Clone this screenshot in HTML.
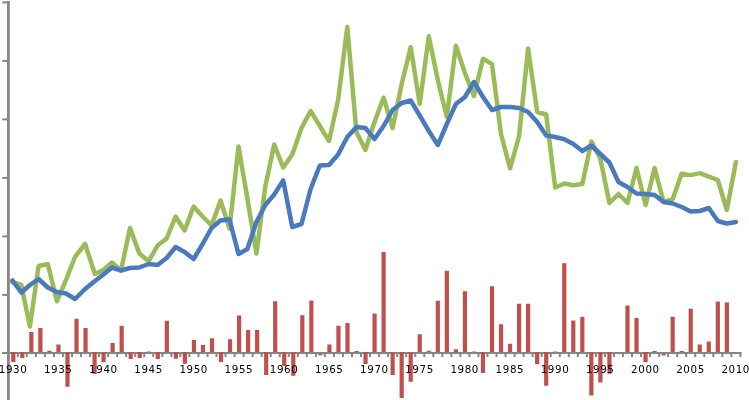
<!DOCTYPE html>
<html><head><meta charset="utf-8"><title>Chart</title>
<style>html,body{margin:0;padding:0;background:#fff;overflow:hidden}svg{display:block}</style></head>
<body>
<svg width="749" height="400" viewBox="0 0 749 400">
<rect width="749" height="400" fill="#fff"/>
<g fill="#868686">
<rect x="7" y="1" width="2.8" height="399"/>
<rect x="2.2" y="1.40" width="5" height="2"/>
<rect x="2.2" y="59.90" width="5" height="2"/>
<rect x="2.2" y="118.40" width="5" height="2"/>
<rect x="2.2" y="176.90" width="5" height="2"/>
<rect x="2.2" y="235.40" width="5" height="2"/>
<rect x="2.2" y="293.90" width="5" height="2"/>
<rect x="2.2" y="352.00" width="5" height="2"/>
<rect x="2.2" y="352" width="739.5" height="2"/>
<rect x="16.80" y="353.5" width="2" height="3.6"/>
<rect x="25.83" y="353.5" width="2" height="3.6"/>
<rect x="34.86" y="353.5" width="2" height="3.6"/>
<rect x="43.89" y="353.5" width="2" height="3.6"/>
<rect x="52.93" y="353.5" width="2" height="3.6"/>
<rect x="61.96" y="353.5" width="2" height="3.6"/>
<rect x="70.99" y="353.5" width="2" height="3.6"/>
<rect x="80.02" y="353.5" width="2" height="3.6"/>
<rect x="89.06" y="353.5" width="2" height="3.6"/>
<rect x="98.09" y="353.5" width="2" height="3.6"/>
<rect x="107.12" y="353.5" width="2" height="3.6"/>
<rect x="116.15" y="353.5" width="2" height="3.6"/>
<rect x="125.19" y="353.5" width="2" height="3.6"/>
<rect x="134.22" y="353.5" width="2" height="3.6"/>
<rect x="143.25" y="353.5" width="2" height="3.6"/>
<rect x="152.28" y="353.5" width="2" height="3.6"/>
<rect x="161.32" y="353.5" width="2" height="3.6"/>
<rect x="170.35" y="353.5" width="2" height="3.6"/>
<rect x="179.38" y="353.5" width="2" height="3.6"/>
<rect x="188.41" y="353.5" width="2" height="3.6"/>
<rect x="197.45" y="353.5" width="2" height="3.6"/>
<rect x="206.48" y="353.5" width="2" height="3.6"/>
<rect x="215.51" y="353.5" width="2" height="3.6"/>
<rect x="224.54" y="353.5" width="2" height="3.6"/>
<rect x="233.58" y="353.5" width="2" height="3.6"/>
<rect x="242.61" y="353.5" width="2" height="3.6"/>
<rect x="251.64" y="353.5" width="2" height="3.6"/>
<rect x="260.67" y="353.5" width="2" height="3.6"/>
<rect x="269.71" y="353.5" width="2" height="3.6"/>
<rect x="278.74" y="353.5" width="2" height="3.6"/>
<rect x="287.77" y="353.5" width="2" height="3.6"/>
<rect x="296.80" y="353.5" width="2" height="3.6"/>
<rect x="305.84" y="353.5" width="2" height="3.6"/>
<rect x="314.87" y="353.5" width="2" height="3.6"/>
<rect x="323.90" y="353.5" width="2" height="3.6"/>
<rect x="332.93" y="353.5" width="2" height="3.6"/>
<rect x="341.97" y="353.5" width="2" height="3.6"/>
<rect x="351.00" y="353.5" width="2" height="3.6"/>
<rect x="360.03" y="353.5" width="2" height="3.6"/>
<rect x="369.06" y="353.5" width="2" height="3.6"/>
<rect x="378.10" y="353.5" width="2" height="3.6"/>
<rect x="387.13" y="353.5" width="2" height="3.6"/>
<rect x="396.16" y="353.5" width="2" height="3.6"/>
<rect x="405.19" y="353.5" width="2" height="3.6"/>
<rect x="414.23" y="353.5" width="2" height="3.6"/>
<rect x="423.26" y="353.5" width="2" height="3.6"/>
<rect x="432.29" y="353.5" width="2" height="3.6"/>
<rect x="441.32" y="353.5" width="2" height="3.6"/>
<rect x="450.36" y="353.5" width="2" height="3.6"/>
<rect x="459.39" y="353.5" width="2" height="3.6"/>
<rect x="468.42" y="353.5" width="2" height="3.6"/>
<rect x="477.45" y="353.5" width="2" height="3.6"/>
<rect x="486.49" y="353.5" width="2" height="3.6"/>
<rect x="495.52" y="353.5" width="2" height="3.6"/>
<rect x="504.55" y="353.5" width="2" height="3.6"/>
<rect x="513.58" y="353.5" width="2" height="3.6"/>
<rect x="522.62" y="353.5" width="2" height="3.6"/>
<rect x="531.65" y="353.5" width="2" height="3.6"/>
<rect x="540.68" y="353.5" width="2" height="3.6"/>
<rect x="549.71" y="353.5" width="2" height="3.6"/>
<rect x="558.75" y="353.5" width="2" height="3.6"/>
<rect x="567.78" y="353.5" width="2" height="3.6"/>
<rect x="576.81" y="353.5" width="2" height="3.6"/>
<rect x="585.84" y="353.5" width="2" height="3.6"/>
<rect x="594.88" y="353.5" width="2" height="3.6"/>
<rect x="603.91" y="353.5" width="2" height="3.6"/>
<rect x="612.94" y="353.5" width="2" height="3.6"/>
<rect x="621.97" y="353.5" width="2" height="3.6"/>
<rect x="631.01" y="353.5" width="2" height="3.6"/>
<rect x="640.04" y="353.5" width="2" height="3.6"/>
<rect x="649.07" y="353.5" width="2" height="3.6"/>
<rect x="658.10" y="353.5" width="2" height="3.6"/>
<rect x="667.14" y="353.5" width="2" height="3.6"/>
<rect x="676.17" y="353.5" width="2" height="3.6"/>
<rect x="685.20" y="353.5" width="2" height="3.6"/>
<rect x="694.23" y="353.5" width="2" height="3.6"/>
<rect x="703.27" y="353.5" width="2" height="3.6"/>
<rect x="712.30" y="353.5" width="2" height="3.6"/>
<rect x="721.33" y="353.5" width="2" height="3.6"/>
<rect x="730.36" y="353.5" width="2" height="3.6"/>
<rect x="739.40" y="353.5" width="2" height="3.6"/>
</g>
<g fill="#c0504d">
<rect x="11.18" y="352.00" width="4.2" height="10.00"/>
<rect x="20.21" y="352.00" width="4.2" height="6.00"/>
<rect x="29.24" y="332.00" width="4.2" height="20.00"/>
<rect x="38.28" y="328.00" width="4.2" height="24.00"/>
<rect x="47.31" y="350.75" width="4.2" height="1.25"/>
<rect x="56.34" y="344.50" width="4.2" height="7.50"/>
<rect x="65.38" y="352.00" width="4.2" height="34.75"/>
<rect x="74.41" y="318.75" width="4.2" height="33.25"/>
<rect x="83.44" y="328.00" width="4.2" height="24.00"/>
<rect x="92.47" y="352.00" width="4.2" height="22.00"/>
<rect x="101.51" y="352.00" width="4.2" height="10.00"/>
<rect x="110.54" y="343.00" width="4.2" height="9.00"/>
<rect x="119.57" y="325.75" width="4.2" height="26.25"/>
<rect x="128.60" y="352.00" width="4.2" height="7.00"/>
<rect x="137.64" y="352.00" width="4.2" height="6.00"/>
<rect x="146.67" y="351.50" width="4.2" height="0.50"/>
<rect x="155.70" y="352.00" width="4.2" height="7.00"/>
<rect x="164.73" y="320.75" width="4.2" height="31.25"/>
<rect x="173.77" y="352.00" width="4.2" height="6.75"/>
<rect x="182.80" y="352.00" width="4.2" height="11.75"/>
<rect x="191.83" y="340.00" width="4.2" height="12.00"/>
<rect x="200.86" y="345.00" width="4.2" height="7.00"/>
<rect x="209.90" y="338.25" width="4.2" height="13.75"/>
<rect x="218.93" y="352.00" width="4.2" height="10.00"/>
<rect x="227.96" y="339.25" width="4.2" height="12.75"/>
<rect x="236.99" y="315.50" width="4.2" height="36.50"/>
<rect x="246.03" y="330.00" width="4.2" height="22.00"/>
<rect x="255.06" y="330.00" width="4.2" height="22.00"/>
<rect x="264.09" y="352.00" width="4.2" height="23.00"/>
<rect x="273.12" y="301.25" width="4.2" height="50.75"/>
<rect x="282.15" y="352.00" width="4.2" height="14.00"/>
<rect x="291.19" y="352.00" width="4.2" height="23.75"/>
<rect x="300.22" y="315.25" width="4.2" height="36.75"/>
<rect x="309.25" y="300.60" width="4.2" height="51.40"/>
<rect x="318.28" y="353.90" width="4.2" height="1.40"/>
<rect x="327.32" y="344.50" width="4.2" height="7.50"/>
<rect x="336.35" y="325.75" width="4.2" height="26.25"/>
<rect x="345.38" y="323.00" width="4.2" height="29.00"/>
<rect x="354.41" y="351.00" width="4.2" height="1.00"/>
<rect x="363.45" y="352.00" width="4.2" height="12.00"/>
<rect x="372.48" y="313.50" width="4.2" height="38.50"/>
<rect x="381.51" y="252.00" width="4.2" height="100.00"/>
<rect x="390.54" y="352.00" width="4.2" height="23.00"/>
<rect x="399.58" y="352.00" width="4.2" height="46.00"/>
<rect x="408.61" y="352.00" width="4.2" height="29.75"/>
<rect x="417.64" y="334.25" width="4.2" height="17.75"/>
<rect x="426.67" y="350.75" width="4.2" height="1.25"/>
<rect x="435.71" y="300.75" width="4.2" height="51.25"/>
<rect x="444.74" y="270.75" width="4.2" height="81.25"/>
<rect x="453.77" y="349.25" width="4.2" height="2.75"/>
<rect x="462.81" y="291.25" width="4.2" height="60.75"/>
<rect x="471.84" y="351.50" width="4.2" height="0.50"/>
<rect x="480.87" y="352.00" width="4.2" height="21.00"/>
<rect x="489.90" y="286.25" width="4.2" height="65.75"/>
<rect x="498.94" y="324.25" width="4.2" height="27.75"/>
<rect x="507.97" y="343.75" width="4.2" height="8.25"/>
<rect x="517.00" y="303.75" width="4.2" height="48.25"/>
<rect x="526.03" y="303.75" width="4.2" height="48.25"/>
<rect x="535.06" y="352.00" width="4.2" height="12.25"/>
<rect x="544.10" y="352.00" width="4.2" height="33.75"/>
<rect x="553.13" y="351.50" width="4.2" height="0.50"/>
<rect x="562.16" y="263.20" width="4.2" height="88.80"/>
<rect x="571.19" y="320.50" width="4.2" height="31.50"/>
<rect x="580.23" y="316.75" width="4.2" height="35.25"/>
<rect x="589.26" y="352.00" width="4.2" height="43.50"/>
<rect x="598.29" y="352.00" width="4.2" height="30.50"/>
<rect x="607.33" y="352.00" width="4.2" height="21.75"/>
<rect x="625.39" y="305.50" width="4.2" height="46.50"/>
<rect x="634.42" y="318.00" width="4.2" height="34.00"/>
<rect x="643.46" y="352.00" width="4.2" height="10.00"/>
<rect x="652.49" y="351.00" width="4.2" height="1.00"/>
<rect x="661.52" y="353.90" width="4.2" height="1.60"/>
<rect x="670.55" y="316.75" width="4.2" height="35.25"/>
<rect x="679.59" y="351.00" width="4.2" height="1.00"/>
<rect x="688.62" y="308.75" width="4.2" height="43.25"/>
<rect x="697.65" y="344.50" width="4.2" height="7.50"/>
<rect x="706.68" y="341.50" width="4.2" height="10.50"/>
<rect x="715.72" y="301.50" width="4.2" height="50.50"/>
<rect x="724.75" y="302.40" width="4.2" height="49.60"/>
</g>
<polyline fill="none" stroke="#9bbb59" stroke-width="4.5" stroke-linejoin="round" stroke-linecap="round" points="12.4,282.0 21.3,285.0 29.9,326.5 38.6,266.0 47.8,264.0 56.9,301.3 66.0,280.0 75.0,257.0 85.1,244.0 94.9,274.0 103.4,270.0 111.9,262.5 121.0,270.5 130.0,228.0 139.3,253.5 148.6,261.2 157.6,245.5 166.6,238.5 175.6,216.5 184.6,230.5 193.6,206.5 202.6,216.5 211.6,225.5 220.5,200.5 229.5,228.5 238.5,146.5 247.4,198.5 256.4,253.5 265.3,186.5 274.2,144.5 283.2,167.5 292.3,154.5 301.5,128.0 310.6,111.0 319.8,126.0 329.0,141.0 338.1,100.0 347.3,27.0 356.4,132.0 365.4,150.0 374.5,122.0 383.6,97.5 392.6,128.0 401.7,84.0 410.7,47.2 419.7,104.0 428.8,36.2 437.8,80.0 446.8,117.0 455.9,45.7 464.9,73.0 473.9,96.0 483.0,58.7 492.0,64.2 501.0,134.0 510.1,168.4 519.1,136.0 528.1,48.5 537.2,112.0 546.2,114.5 555.2,187.5 564.3,183.5 573.3,185.3 582.3,184.0 591.4,141.5 600.4,159.0 609.4,203.0 618.5,194.0 627.5,203.0 636.5,168.0 645.6,205.0 654.6,168.0 663.6,202.0 672.7,199.0 681.7,173.6 690.7,175.1 699.8,173.1 708.8,176.6 717.8,180.0 726.8,210.0 735.9,162.0"/>
<polyline fill="none" stroke="#4a7abd" stroke-width="4.5" stroke-linejoin="round" stroke-linecap="round" points="12.4,280.5 21.3,292.5 29.9,285.0 38.6,279.0 47.8,287.5 56.9,292.0 66.0,293.5 75.0,299.0 85.1,289.0 94.9,281.0 103.4,274.5 111.9,267.5 121.0,270.5 130.0,268.0 139.3,267.5 148.6,264.0 157.6,265.0 166.6,258.0 175.6,247.0 184.6,252.0 193.6,259.0 202.6,244.0 211.6,228.0 220.5,220.5 229.5,219.5 238.5,254.0 247.4,249.0 256.4,222.0 265.3,205.0 274.2,194.5 283.2,180.4 292.3,227.0 301.5,224.0 310.6,189.0 319.8,165.5 329.0,165.0 338.1,154.5 347.3,137.0 356.4,127.0 365.4,128.0 374.5,139.0 383.6,126.0 392.6,110.0 401.7,103.0 410.7,100.5 419.7,115.5 428.8,131.0 437.8,145.0 446.8,124.0 455.9,104.0 464.9,97.0 473.9,82.0 483.0,97.0 492.0,110.0 501.0,107.0 510.1,107.0 519.1,108.0 528.1,112.0 537.2,122.0 546.2,135.5 555.2,137.0 564.3,139.3 573.3,144.0 582.3,151.0 591.4,145.5 600.4,154.0 609.4,162.5 618.5,182.0 627.5,187.0 636.5,193.5 645.6,194.0 654.6,195.0 663.6,202.0 672.7,203.5 681.7,207.0 690.7,211.5 699.8,211.0 708.8,208.0 717.8,221.0 726.8,223.5 735.9,222.0"/>
<g font-family="'DejaVu Sans', 'Liberation Sans', sans-serif" font-size="10.3" letter-spacing="0.6" fill="#000" text-anchor="middle">
<text x="13.1" y="373.2">1930</text>
<text x="58.2" y="373.2">1935</text>
<text x="103.4" y="373.2">1940</text>
<text x="148.6" y="373.2">1945</text>
<text x="193.7" y="373.2">1950</text>
<text x="238.9" y="373.2">1955</text>
<text x="284.1" y="373.2">1960</text>
<text x="329.2" y="373.2">1965</text>
<text x="374.4" y="373.2">1970</text>
<text x="419.5" y="373.2">1975</text>
<text x="464.7" y="373.2">1980</text>
<text x="509.9" y="373.2">1985</text>
<text x="555.0" y="373.2">1990</text>
<text x="600.2" y="373.2">1995</text>
<text x="645.4" y="373.2">2000</text>
<text x="690.5" y="373.2">2005</text>
<text x="735.7" y="373.2">2010</text>
</g>
</svg>
</body></html>
